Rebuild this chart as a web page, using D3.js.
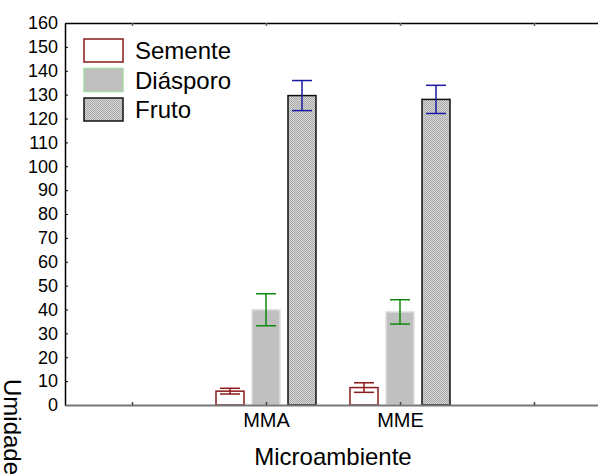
<!DOCTYPE html>
<html>
<head>
<meta charset="utf-8">
<script src="https://cdn.jsdelivr.net/npm/d3@7"></script>
<style>
  body { margin: 0; background: #fff; }
  text { font-family: "Liberation Sans", Arial, sans-serif; }
</style>
</head>
<body>
<div id="chart"></div>
<script>
// data
var categories = ["", "MMA", "MME", ""];
var seriesNames = ["Semente", "Diásporo", "Fruto"];
var semente = [5.8, 7.3];
var sementeErr = [1.2, 2.0];
var diasporo = [39.9, 39.0];
var diasporoErr = [6.7, 5.1];
var fruto = [129.6, 128.0];
var frutoErr = [6.3, 5.9];
var yTicks = d3.range(0, 161, 10);

var svgWidth = 598, svgHeight = 475;
var margin = { top: 23, right: -3, bottom: 70, left: 65 };
var chartWidth = svgWidth - margin.left - margin.right;
var chartHeight = svgHeight - margin.top - margin.bottom;

var svg = d3.select("#chart").append("svg")
    .attr("width", svgWidth)
    .attr("height", svgHeight);

// hatch for Fruto
var defs = svg.append("defs");
var pat = defs.append("pattern")
    .attr("id", "hatch")
    .attr("patternUnits", "userSpaceOnUse")
    .attr("width", 2).attr("height", 2);
pat.append("rect").attr("width", 2).attr("height", 2).attr("fill", "#d8d8d8");
pat.append("rect").attr("width", 1).attr("height", 1).attr("fill", "#a8a8a8");
pat.append("rect").attr("x", 1).attr("y", 1).attr("width", 1).attr("height", 1).attr("fill", "#a8a8a8");

var chart = svg.append("g").attr("transform", `translate(${margin.left},${margin.top})`);

var x = d3.scaleLinear().domain([0.5, 4.5]).range([0, chartWidth]);
var y = d3.scaleLinear().domain([0, 160]).range([chartHeight, 0]);

var series = [
  { name: seriesNames[0], vals: semente, err: sementeErr, fill: "#fff", stroke: "#8b1a1a", errColor: "#8b1a1a" },
  { name: seriesNames[1], vals: diasporo, err: diasporoErr, fill: "#c0c0c0", stroke: "#e0e0e0", errColor: "#0b8a0b" },
  { name: seriesNames[2], vals: fruto, err: frutoErr, fill: "url(#hatch)", stroke: "#111", errColor: "#1a1aa0" }
];

var barW = 28, step = 36;

// bars
series.forEach(function(s, si) {
  var off = (si - 1) * step;
  var g = chart.append("g");
  s.vals.forEach(function(v, i) {
    var cx = x(i + 2) + off;
    g.append("rect")
      .attr("x", cx - barW / 2)
      .attr("y", y(v))
      .attr("width", barW)
      .attr("height", y(0) - y(v))
      .attr("fill", s.fill)
      .attr("stroke", s.stroke)
      .attr("stroke-width", 1.5);
  });
  // error bars
  s.vals.forEach(function(v, i) {
    var cx = x(i + 2) + off;
    var hi = y(v + s.err[i]), lo = y(v - s.err[i]);
    g.append("line").attr("x1", cx).attr("x2", cx).attr("y1", hi).attr("y2", lo)
      .attr("stroke", s.errColor).attr("stroke-width", 1.5);
    [hi, lo].forEach(function(yy) {
      g.append("line").attr("x1", cx - 10).attr("x2", cx + 10).attr("y1", yy).attr("y2", yy)
        .attr("stroke", s.errColor).attr("stroke-width", 1.5);
    });
  });
});

// y axis
var leftAxis = d3.axisLeft(y).tickValues(yTicks).tickSizeInner(-3).tickSizeOuter(0).tickPadding(7);
var ya = chart.append("g").call(leftAxis);
ya.select(".domain").attr("stroke", "#000").attr("stroke-width", 1.5);
ya.selectAll("text").style("font-size", "18px").attr("fill", "#000");

// x axis
var bottomAxis = d3.axisBottom(x).tickValues([1, 2, 3, 4])
    .tickFormat(function(d) { return categories[d - 1]; })
    .tickSizeInner(-3).tickSizeOuter(0).tickPadding(8);
var xa = chart.append("g").attr("transform", `translate(0,${chartHeight})`).call(bottomAxis);
xa.select(".domain").attr("stroke", "#777").attr("stroke-width", 2);
xa.selectAll(".tick line").attr("stroke", "#444").attr("stroke-width", 1.5);
xa.selectAll("text").style("font-size", "20px").attr("fill", "#000");

// top frame line
var topAxis = d3.axisTop(x).tickValues([1, 2, 3, 4]).tickFormat("").tickSizeInner(-3).tickSizeOuter(0);
var ta = chart.append("g").call(topAxis);
ta.select(".domain").attr("stroke", "#000").attr("stroke-width", 1.5);
ta.selectAll(".tick line").attr("stroke", "#666").attr("stroke-width", 1.5);

// legend
var legend = chart.append("g").attr("transform", "translate(19,16)");
series.forEach(function(s, i) {
  var row = legend.append("g").attr("transform", `translate(0,${i * 29.5})`);
  row.append("rect").attr("width", 39).attr("height", 23)
    .attr("fill", s.fill)
    .attr("stroke", i === 1 ? "#a8d8a8" : s.stroke)
    .attr("stroke-width", 1.5);
  row.append("text").attr("x", 51).attr("y", 20)
    .style("font-size", "24px").text(s.name);
});

// axis titles
svg.append("text")
    .attr("x", margin.left + chartWidth / 2)
    .attr("y", 465)
    .style("text-anchor", "middle")
    .style("font-size", "24px")
    .text("Microambiente");

svg.append("text")
    .attr("transform", "translate(4,379) rotate(90)")
    .style("font-size", "24px")
    .text("Umidade");
</script>
</body>
</html>
